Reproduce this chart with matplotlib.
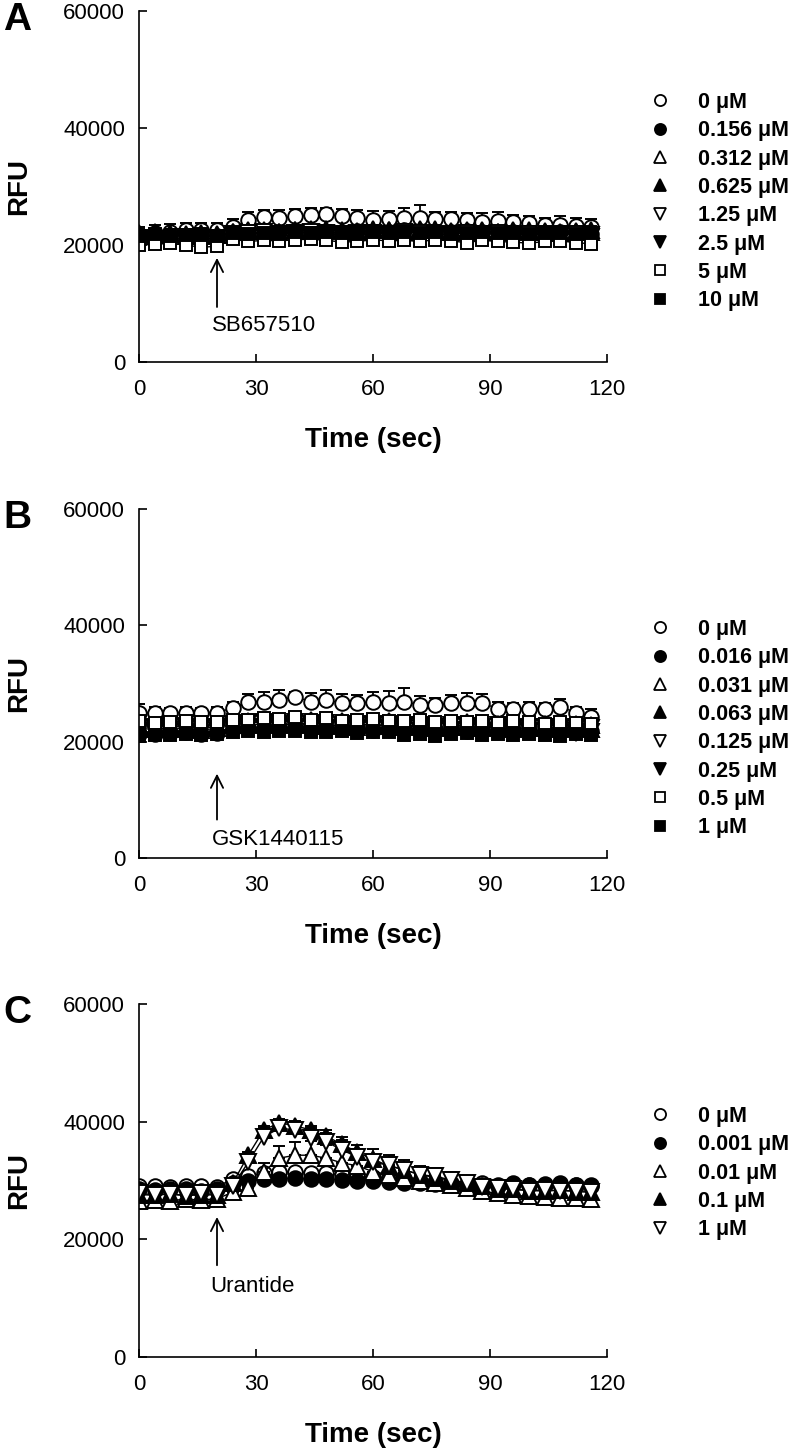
import matplotlib
matplotlib.use('Agg')
import matplotlib.pyplot as plt
from matplotlib.lines import Line2D

plt.rcParams['font.family'] = ['Liberation Sans', 'DejaVu Sans']

# ---------------- data ----------------
time_sec = [0, 4, 8, 12, 16, 20, 24, 28, 32, 36, 40, 44, 48, 52, 56,
            60, 64, 68, 72, 76, 80, 84, 88, 92, 96, 100, 104, 108, 112, 116]

# Panel A : SB657510
a_labels = ['0 μM', '0.156 μM', '0.312 μM', '0.625 μM', '1.25 μM', '2.5 μM', '5 μM', '10 μM']
a_0 = [21500, 22000, 22300, 22500, 22600, 22500, 23000, 24200, 24800, 24600, 24900, 25100, 25300, 24900, 24600,
       24200, 24500, 24600, 24700, 24500, 24400, 24300, 24000, 24100, 23900, 23700, 23500, 23400, 23300, 23100]
a_0156 = [21300, 21500, 21600, 21500, 21400, 21600, 21900, 22100, 22000, 22200, 22100, 22300, 22200, 22100, 22400,
          22300, 22200, 22500, 22400, 22300, 22200, 22400, 22300, 22100, 22200, 22000, 22100, 22200, 22000, 21900]
a_0312 = [21800, 21700, 21900, 21600, 21500, 21700, 22300, 22500, 22400, 22200, 22600, 22400, 22700, 22400, 22300,
          22600, 22500, 22400, 22700, 22500, 22300, 22600, 22400, 22300, 22500, 22200, 22400, 22100, 22300, 22500]
a_0625 = [22000, 22200, 22100, 21900, 22000, 21800, 22200, 22400, 22600, 22300, 22500, 22700, 22600, 22500, 22400,
          22700, 22600, 22300, 22500, 22700, 22400, 22300, 22500, 22200, 22400, 22600, 22300, 22200, 22400, 22300]
a_125 = [21200, 21000, 20800, 21300, 21100, 21200, 21800, 22000, 22200, 21900, 22100, 22300, 22000, 21800, 22100,
         22000, 21900, 22200, 22000, 21700, 21900, 22100, 21800, 22000, 21700, 21900, 21600, 21800, 21900, 21700]
a_25 = [21000, 20800, 20600, 21000, 21200, 21000, 21500, 21300, 21600, 21800, 21500, 21700, 21900, 21600, 21800,
        21700, 21500, 21800, 21600, 21400, 21700, 21500, 21300, 21600, 21400, 21200, 21500, 21300, 21100, 21400]
a_5 = [20000, 20100, 20300, 20000, 19600, 19800, 21000, 20600, 20800, 20700, 20900, 21000, 20800, 20500, 20600,
       20900, 20700, 20800, 20600, 20900, 20700, 20400, 20800, 20600, 20500, 20300, 20600, 20700, 20400, 20200]
a_10 = [21600, 21800, 21500, 21700, 21900, 21600, 22000, 21800, 22100, 21900, 22200, 22000, 22300, 22100, 21900,
        22200, 22000, 22300, 22100, 22200, 21900, 22100, 22300, 22000, 22100, 21800, 22000, 22100, 21900, 22000]
a_0_err = [1500, 1400, 1300, 1200, 1100, 1200, 1400, 1500, 1200, 1300, 1200, 1300, 1000, 1200, 1400,
           1600, 1300, 1800, 2200, 1200, 1300, 1200, 1400, 1500, 1300, 1300, 1200, 1500, 1300, 1400]
a_other_err = [900, 700, 800, 700, 800, 700, 600, 700]

# Panel B : GSK1440115
b_labels = ['0 μM', '0.016 μM', '0.031 μM', '0.063 μM', '0.125 μM', '0.25 μM', '0.5 μM', '1 μM']
b_0 = [24900, 25000, 25000, 25000, 25000, 25000, 25800, 26900, 26900, 27200, 27700, 26900, 27200, 26600, 26600,
       26900, 26600, 26900, 26300, 26300, 26600, 26600, 26600, 25700, 25700, 25700, 25700, 26000, 25000, 24300]
b_0016 = [21400, 21300, 21500, 21600, 21400, 21500, 22200, 22400, 22300, 22500, 22300, 22200, 22400, 22100, 22300,
          22000, 22200, 22100, 21900, 22000, 22200, 21900, 22100, 21800, 22000, 21900, 21700, 22000, 21800, 21900]
b_0031 = [22800, 22600, 23000, 22900, 22700, 22800, 23200, 23500, 23300, 23600, 23400, 23700, 23300, 23500, 23200,
          23400, 23600, 23100, 23300, 23000, 23200, 23400, 23100, 23000, 23200, 22900, 23100, 22800, 23000, 22900]
b_0063 = [22300, 22100, 22400, 22200, 22000, 22300, 22800, 23000, 22900, 23100, 22800, 23000, 22700, 22900, 22600,
          22800, 22700, 22500, 22700, 22400, 22600, 22500, 22300, 22500, 22200, 22400, 22300, 22100, 22300, 22200]
b_0125 = [22600, 22400, 22700, 22500, 22300, 22600, 23000, 23200, 23400, 23100, 23300, 23000, 23200, 22900, 23100,
          22800, 23000, 22700, 22900, 22600, 22800, 22700, 22500, 22800, 22400, 22600, 22500, 22300, 22500, 22400]
b_025 = [21800, 21600, 21900, 21700, 21500, 21800, 22300, 22500, 22400, 22600, 22300, 22500, 22200, 22400, 22100,
         22300, 22000, 22200, 21900, 22100, 21800, 22000, 21900, 21700, 21900, 21600, 21800, 21700, 21500, 21700]
b_05 = [23500, 23200, 23300, 23600, 23400, 23300, 23700, 23800, 24000, 23900, 24300, 23800, 24000, 23600, 23700,
        23900, 23500, 23600, 23800, 23400, 23500, 23300, 23600, 23200, 23500, 23300, 23100, 23400, 23200, 23000]
b_1 = [21000, 21200, 21100, 21300, 21200, 21400, 21600, 21800, 21700, 21900, 21800, 21700, 21600, 21800, 21500,
       21600, 21700, 21200, 21400, 21000, 21300, 21500, 21200, 21400, 21100, 21300, 21200, 21000, 21300, 21100]
b_0_err = [1500, 900, 800, 900, 800, 900, 1000, 1300, 1700, 1600, 800, 1500, 1600, 1600, 1400,
           1600, 2100, 2300, 1600, 1200, 1400, 1700, 1600, 1200, 900, 1100, 1000, 1400, 1000, 1300]
b_other_err = [700, 700, 600, 700, 600, 800, 700, 600]

# Panel C : Urantide
c_labels = ['0 μM', '0.001 μM', '0.01 μM', '0.1 μM', '1 μM']
c_0 = [29000, 29100, 28900, 29000, 29100, 28900, 30300, 30800, 31200, 31400, 31500, 31300, 31200, 31000, 30800,
       30600, 30400, 30200, 30000, 29800, 29600, 29400, 29500, 29300, 29500, 29200, 29400, 29500, 29300, 29200]
c_0001 = [28600, 28400, 28500, 28600, 28300, 28500, 29500, 30000, 30200, 30300, 30400, 30200, 30300, 30100, 30000,
          29900, 29800, 29600, 29500, 29400, 29300, 29200, 29300, 29100, 29400, 29200, 29300, 29400, 29200, 29000]
c_001 = [26500, 26700, 26600, 26800, 26700, 26900, 28000, 28700, 31500, 33800, 34300, 34300, 33800, 33000, 32500,
         31500, 31000, 30500, 30000, 29600, 29200, 28700, 28200, 27800, 27500, 27300, 27200, 27000, 27100, 26800]
c_01 = [27600, 27500, 27700, 27400, 27600, 27500, 29500, 34300, 38600, 39800, 39300, 38600, 37500, 36200, 34800,
        33600, 32500, 31800, 31000, 30500, 30000, 29500, 29000, 28600, 28500, 28300, 28200, 28400, 28100, 28000]
c_1 = [27800, 27600, 27700, 27500, 27800, 27600, 29000, 33100, 37400, 38900, 38600, 37200, 36600, 35200, 34000,
       33100, 32600, 31800, 31000, 30700, 30100, 29600, 28900, 28800, 28500, 28300, 28400, 28200, 28300, 28100]
c_0_err = [600, 500, 600, 500, 600, 500, 700, 600, 700, 600, 700, 600, 600, 700, 600,
           600, 700, 600, 600, 700, 600, 600, 700, 600, 600, 700, 600, 600, 700, 600]
c_001_err = [600, 500, 600, 500, 600, 500, 700, 900, 1500, 2000, 2200, 2400, 2200, 2000, 1800,
             1600, 1500, 1400, 1300, 1200, 1100, 1000, 900, 800, 800, 700, 700, 700, 700, 700]
c_1_err = [600, 500, 600, 500, 600, 500, 800, 1200, 1500, 1200, 1500, 1800, 2000, 2200, 2000,
           2200, 1800, 1600, 1500, 1400, 1300, 1200, 1000, 900, 800, 800, 700, 700, 700, 700]
c_other_err = [500, 600]

y_ticks = [0, 20000, 40000, 60000]
x_ticks = [0, 30, 60, 90, 120]

# ---------------- style ----------------
# (marker, filled, size scale)
styles = [('o', False, 1.0), ('o', True, 1.0), ('^', False, 1.1), ('^', True, 1.1),
          ('v', False, 1.1), ('v', True, 1.1), ('s', False, 0.85), ('s', True, 0.85)]

W, H = 794, 1451
fig = plt.figure(figsize=(W / 100, H / 100), dpi=100)


def add_ax(left, top, right, bottom):
    return fig.add_axes([left / W, 1 - bottom / H, (right - left) / W, (bottom - top) / H])


def flat_err(value):
    return [value] * len(time_sec)


panels = [
    dict(letter='A', box=(139, 11, 607, 362),
         series=[a_0, a_0156, a_0312, a_0625, a_125, a_25, a_5, a_10],
         errs=[a_0_err] + [flat_err(e) for e in a_other_err[1:]] + [flat_err(a_other_err[0])],
         labels=a_labels, drug='SB657510', arrow=(17800, 9400), text_y=6300, text_x=18.7,
         leg_top=92),
    dict(letter='B', box=(139, 509, 607, 858),
         series=[b_0, b_0016, b_0031, b_0063, b_0125, b_025, b_05, b_1],
         errs=[b_0_err] + [flat_err(e) for e in b_other_err[1:]] + [flat_err(b_other_err[0])],
         labels=b_labels, drug='GSK1440115', arrow=(14500, 6600), text_y=3200, text_x=18.7,
         leg_top=619),
    dict(letter='C', box=(139, 1004, 607, 1357),
         series=[c_0, c_0001, c_001, c_01, c_1],
         errs=[c_0_err, flat_err(c_other_err[0]), c_001_err, flat_err(c_other_err[1]), c_1_err],
         labels=c_labels, drug='Urantide', arrow=(23800, 15600), text_y=11900, text_x=18.2,
         leg_top=1106),
]

ms = 10.5
for p in panels:
    l, t, r, b = p['box']
    ax = add_ax(l, t, r, b)
    handles = []
    for i, (vals, err) in enumerate(zip(p['series'], p['errs'])):
        mk, filled, sc = styles[i]
        lower = [0] * len(err)
        ax.errorbar(time_sec, vals, yerr=[lower, err], fmt='-', color='black', lw=1.0,
                    marker=mk, markersize=ms * sc, markeredgewidth=1.4,
                    markerfacecolor='black' if filled else 'white', markeredgecolor='black',
                    ecolor='black', elinewidth=1.3, capsize=4.5, capthick=1.3, zorder=2 + i)
        handles.append(Line2D([], [], linestyle='none', marker=mk, markersize=8 * sc,
                              markeredgewidth=1.3, markeredgecolor='black',
                              markerfacecolor='black' if filled else 'white'))
    ax.set_xlim(0, 120)
    ax.set_ylim(0, 60000)
    ax.set_xticks(x_ticks)
    ax.set_yticks(y_ticks)
    ax.spines['top'].set_visible(False)
    ax.spines['right'].set_visible(False)
    for s in ('left', 'bottom'):
        ax.spines[s].set_linewidth(1.2)
    ax.tick_params(axis='both', direction='in', length=6, width=1.2, labelsize=16)
    ax.tick_params(axis='x', pad=12)
    ax.tick_params(axis='y', pad=10)
    ax.set_xlabel('Time (sec)', fontsize=20, fontweight='bold', labelpad=20)
    ax.set_ylabel('RFU', fontsize=20, fontweight='bold')
    ax.yaxis.label.set_va('center')
    ax.yaxis.set_label_coords(-(139 - 19) / (r - l), 0.5)
    for sp in ax.spines.values():
        sp.set_zorder(20)

    tip, tail = p['arrow']
    ax.annotate('', xy=(20, tip), xytext=(20, tail),
                arrowprops=dict(arrowstyle='->', lw=1.3, color='black', mutation_scale=22,
                                shrinkA=0, shrinkB=0))
    ax.text(p['text_x'], p['text_y'], p['drug'], fontsize=16, ha='left', va='center')

    fig.text(3 / W, 1 - (t + 9) / H, p['letter'], fontsize=28, fontweight='bold',
             ha='left', va='center')

    leg = ax.legend(handles, p['labels'], loc='upper left',
                    bbox_to_anchor=(649.6 / W, 1 - p['leg_top'] / H),
                    bbox_transform=fig.transFigure, frameon=False,
                    prop=dict(size=15.5, weight='bold'), borderpad=0, borderaxespad=0,
                    handlelength=1.0, handletextpad=1.25, labelspacing=0.34)

fig.savefig('out.png', dpi=100)
